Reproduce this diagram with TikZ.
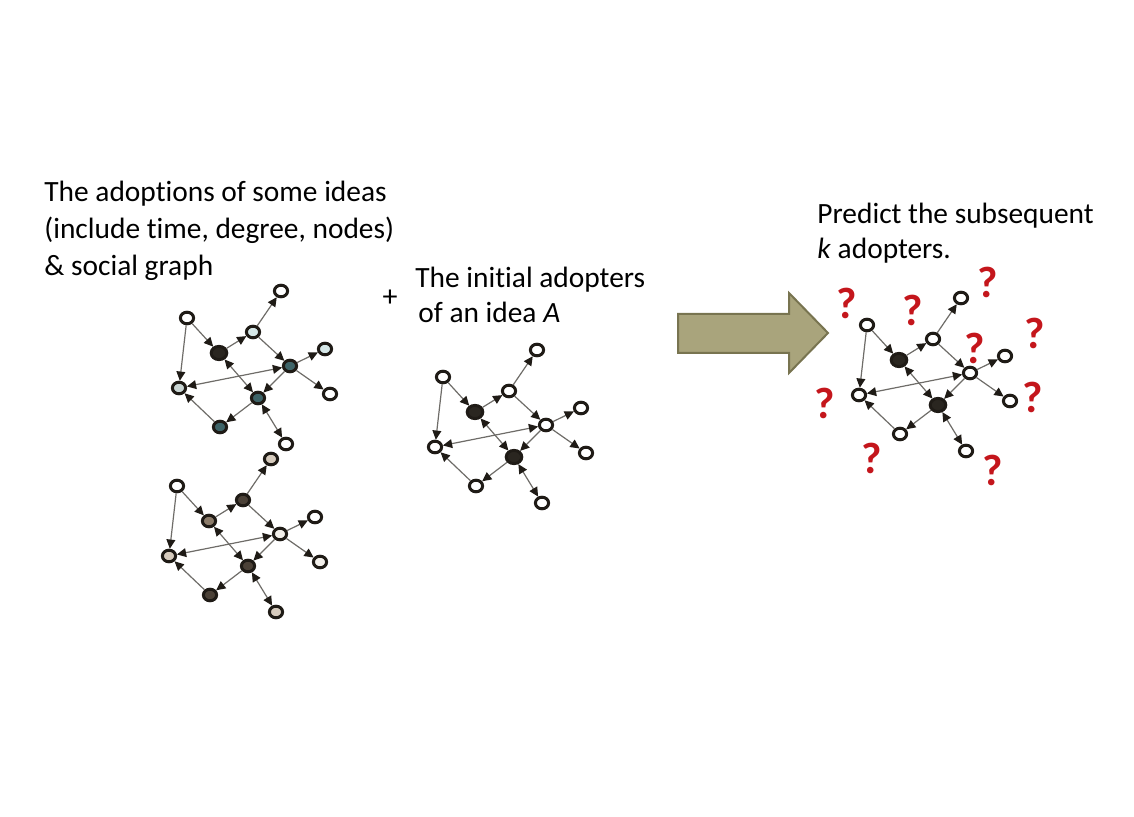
\documentclass[tikz,border=0pt]{standalone}
\usepackage{fontspec}
\setmainfont[Ligatures=NoCommon]{Carlito}
\usetikzlibrary{shapes.geometric,arrows.meta,positioning}
\definecolor{inkdark}{RGB}{31,27,22}
\definecolor{linkgray}{RGB}{110,108,104}
\definecolor{adoptblack}{RGB}{42,38,32}
\definecolor{tealdark}{RGB}{62,100,104}
\definecolor{tealpale}{RGB}{214,232,232}
\definecolor{greypale}{RGB}{201,213,211}
\definecolor{brownmid}{RGB}{140,124,106}
\definecolor{browndark}{RGB}{75,65,55}
\definecolor{beigepale}{RGB}{214,203,189}
\definecolor{creampale}{RGB}{242,239,234}
\definecolor{arrowolive}{RGB}{169,164,124}
\definecolor{arrowedge}{RGB}{120,116,80}
\definecolor{quered}{RGB}{196,22,28}

% one social graph, node names start with #1
\newcommand{\adoptnet}[1]{%
  \node[vert, fa] (#1a) at (0,0) {};
  \node[vert, fb] (#1b) at (32,35) {};
  \node[vert, fc] (#1c) at (66,14) {};
  \node[vert, fd] (#1d) at (94,-27) {};
  \node[vert, fe] (#1e) at (103,48) {};
  \node[vert, ff] (#1f) at (138,31) {};
  \node[vert, fg] (#1g) at (143,76) {};
  \node[vert, fh] (#1h) at (-8,70) {};
  \node[vert, fi] (#1i) at (71,80) {};
  \node[vert, fj] (#1j) at (33,109) {};
  \node[vert, fk] (#1k) at (99,126) {};
  \draw[link] (#1a) -- (#1b);
  \draw[link] (#1a) -- (#1h);
  \draw[link] (#1b) -- (#1c);
  \draw[link] (#1c) -- (#1d);
  \draw[link] (#1c) -- (#1e);
  \draw[link] (#1e) -- (#1f);
  \draw[link] (#1e) -- (#1g);
  \draw[link] (#1e) -- (#1i);
  \draw[link] (#1i) -- (#1j);
  \draw[link] (#1j) -- (#1h);
  \draw[both] (#1h) -- (#1e);
  \draw[both] (#1b) -- (#1i);
  \draw[both] (#1i) -- (#1k);
}

\begin{document}
\begin{tikzpicture}[x=0.5pt, y=-0.5pt,
    vert/.style={draw=inkdark, line width=1.5pt, ellipse, inner sep=0pt,
      minimum width=6.6pt, minimum height=5.8pt, fill=white},
    big/.style={minimum width=7.8pt, minimum height=6.6pt},
    fa/.style={}, fb/.style={}, fc/.style={}, fd/.style={}, fe/.style={}, ff/.style={},
    fg/.style={}, fh/.style={}, fi/.style={}, fj/.style={}, fk/.style={},
    link/.style={draw=linkgray, line width=0.6pt,
      -{Triangle[length=4.6pt, width=4.4pt, color=inkdark]}},
    both/.style={link, {Triangle[length=4.6pt, width=4.4pt, color=inkdark]}-{Triangle[length=4.6pt, width=4.4pt, color=inkdark]}},
    caption/.style={inner sep=0pt, align=left, text=black},
    qmark/.style={inner sep=0pt, text=quered, font=\fontsize{22}{22}\selectfont\bfseries}]

  \useasboundingbox (0,0) rectangle (1134,817);

  % texts
  \node[caption, anchor=north west, font=\fontsize{14.7}{18.3}\selectfont] (ideas) at (44,181)
    {The adoptions of some ideas\\(include time, degree, nodes)\\\& social graph};
  \node[inner sep=0pt, font=\fontsize{15}{15}\selectfont] (plus) at (390,298) {+};
  \node[caption, anchor=north west, font=\fontsize{14.7}{17.5}\selectfont] (initial) at (415,267)
    {The initial adopters\\\hspace*{1.5pt}of an idea \textit{A}};
  \node[caption, anchor=north west, font=\fontsize{14.7}{17.5}\selectfont] (predict) at (817,203)
    {Predict the subsequent\\\textit{k} adopters.};

  % history graph, first idea
  \begin{scope}[shift={(187,318)}, fb/.style={fill=adoptblack, big}, fc/.style={fill=tealpale},
      fe/.style={fill=tealdark}, ff/.style={fill=tealpale}, fh/.style={fill=greypale},
      fi/.style={fill=tealdark}, fj/.style={fill=tealdark}]
    \adoptnet{s}
  \end{scope}

  % history graph, second idea
  \begin{scope}[shift={(177,486)}, fb/.style={fill=brownmid}, fc/.style={fill=browndark},
      fd/.style={fill=beigepale}, fe/.style={fill=creampale}, fg/.style={fill=creampale},
      fh/.style={fill=beigepale}, fi/.style={fill=browndark}, fj/.style={fill=browndark},
      fk/.style={fill=beigepale}]
    \adoptnet{t}
  \end{scope}

  % initial adopters of A
  \begin{scope}[shift={(443,377)}, fb/.style={fill=adoptblack, big}, fi/.style={fill=adoptblack, big}]
    \adoptnet{m}
  \end{scope}

  % prediction
  \path[fill=arrowolive, draw=arrowedge, line width=1pt]
    (678,314) -- (789,314) -- (789,293) -- (828,333) -- (789,373) -- (789,353) -- (678,353) -- cycle;

  \begin{scope}[shift={(867,325)}, fb/.style={fill=adoptblack, big}, fi/.style={fill=adoptblack, big}]
    \adoptnet{p}
  \end{scope}

  \node[qmark] (q1) at (847,303) {?};
  \node[qmark] (q2) at (913,310) {?};
  \node[qmark] (q3) at (988,282) {?};
  \node[qmark] (q4) at (1035,333) {?};
  \node[qmark] (q5) at (975,348) {?};
  \node[qmark] (q6) at (1033,397) {?};
  \node[qmark] (q7) at (825,403) {?};
  \node[qmark] (q8) at (872,458) {?};
  \node[qmark] (q9) at (993,470) {?};
\end{tikzpicture}
\end{document}
